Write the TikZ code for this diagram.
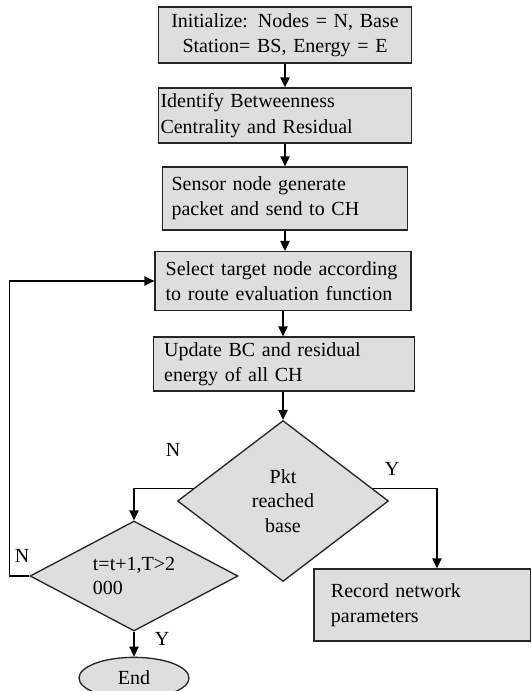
\documentclass[tikz,border=0pt]{standalone}
\usepackage{fontspec}
\setmainfont{Liberation Serif}
\usetikzlibrary{shapes.geometric,arrows.meta}
\definecolor{boxfillc}{HTML}{DEDEDE}
\definecolor{boxlinec}{HTML}{262626}
\tikzstyle{stepbox} = [
    draw=boxlinec,
    fill=boxfillc,
    line width=1pt,
    rectangle,
    align=left,
    inner xsep=6pt,
    font=\fontsize{15}{19}\selectfont
    ]
\tikzstyle{decision} = [
    draw=boxlinec,
    fill=boxfillc,
    line width=1pt,
    diamond,
    inner sep=0pt,
    font=\fontsize{15}{18.5}\selectfont
    ]
\tikzstyle{flowline} = [
    draw=black,
    line width=1pt,
    -{Triangle[length=7.5pt,width=7pt]}
    ]
\tikzstyle{branchlabel} = [
    inner sep=0pt,
    font=\fontsize{15}{19}\selectfont
    ]

\begin{document}
\begin{tikzpicture}[x=0.75pt,y=-0.75pt]
\useasboundingbox (0,0) rectangle (531,691);
\node[stepbox, align=center, text width=177.75pt, minimum height=42pt] (init) at (285,35)
    {Initialize: Nodes = N, Base\\ Station= BS, Energy = E};
\node[stepbox, inner xsep=1.5pt, text width=186.75pt, minimum height=41.25pt] (ident) at (285,115.5)
    {Identify Betweenness\\ Centrality and Residual};
\node[stepbox, inner xsep=6.75pt, text width=170.25pt, minimum height=47.25pt] (sensor) at (285,198.5)
    {Sensor node generate\\ packet and send to CH};
\node[stepbox, inner xsep=8pt, text width=176pt, minimum height=44pt] (select) at (283,281)
    {Select target node according\\ to route evaluation function};
\node[stepbox, inner xsep=8pt, text width=179.75pt, minimum height=40.5pt] (update) at (284,364)
    {Update BC and residual\\ energy of all CH};
\node[decision, align=center, minimum width=158.25pt, minimum height=120.75pt] (pkt) at (283,501)
    {Pkt\\ reached\\ base};
\node[decision, align=left, shape aspect=1.9, minimum width=156pt, minimum height=82.5pt] (chk) at (134,576)
    {t=t+1,T>2\\ 000};
\node[stepbox, inner xsep=12.75pt, text width=136.9pt, minimum height=54pt] (rec) at (422.25,605)
    {Record network\\ parameters};
\node[draw=boxlinec, fill=boxfillc, line width=1pt, ellipse, inner sep=0pt,
    minimum width=82.5pt, minimum height=31pt, font=\fontsize{15}{19}\selectfont] (endn) at (134,678) {End};

% branch labels
\node[branchlabel] (nlabpkt) at (173,450) {N};
\node[branchlabel] (ylabpkt) at (392,469) {Y};
\node[branchlabel] (nlabchk) at (22,556) {N};
\node[branchlabel] (ylabchk) at (162,639) {Y};

% connectors
\draw[flowline] (init.south) -- (ident.north);
\draw[flowline] (ident.south) -- (sensor.north);
\draw[flowline] (sensor.south) -- (sensor.south |- select.north);
\draw[flowline] (select.south) -- (select.south |- update.north);
\draw[flowline] (update.south -| pkt.north) -- (pkt.north);
\draw[flowline] (pkt.172) -| (chk.north);
\draw[flowline] (pkt.8) -| ([xshift=11pt]rec.north);
\draw[flowline] (chk.west) -- ++(-20,0) |- (select.west);
\draw[flowline] (chk.south) -- (endn.north);
\end{tikzpicture}
\end{document}
